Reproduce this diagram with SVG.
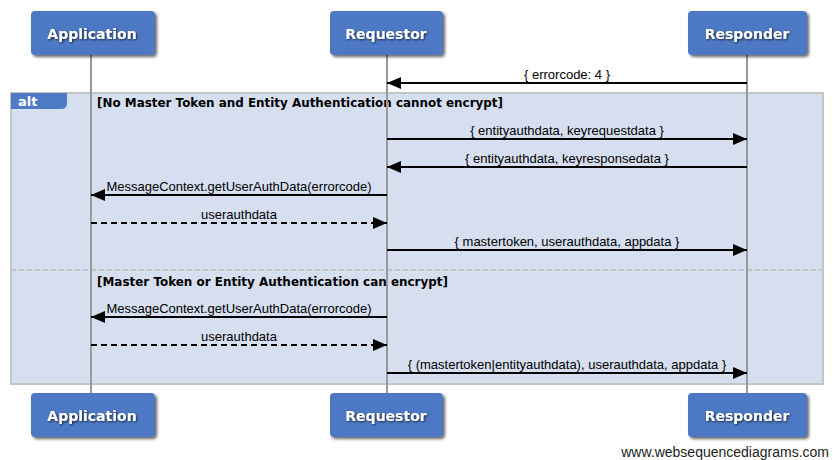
<svg xmlns="http://www.w3.org/2000/svg" width="833" height="460" viewBox="0 0 833 460">
<defs>
<filter id="sh" x="-20%" y="-20%" width="150%" height="160%">
<feGaussianBlur in="SourceAlpha" stdDeviation="1.5"/>
<feOffset dx="2" dy="2" result="b"/>
<feFlood flood-color="#000" flood-opacity="0.6"/>
<feComposite in2="b" operator="in"/>
<feMerge><feMergeNode/><feMergeNode in="SourceGraphic"/></feMerge>
</filter>
<filter id="tsh" x="-10%" y="-30%" width="120%" height="160%">
<feGaussianBlur in="SourceAlpha" stdDeviation="0.8"/>
<feOffset dx="1" dy="1" result="b"/>
<feFlood flood-color="#000" flood-opacity="0.7"/>
<feComposite in2="b" operator="in"/>
<feMerge><feMergeNode/><feMergeNode in="SourceGraphic"/></feMerge>
</filter>
<marker id="ah" markerUnits="userSpaceOnUse" markerWidth="14" markerHeight="12" refX="14" refY="6" orient="auto">
<path d="M0,0 L14,6 L0,12 z" fill="#000"/>
</marker>
</defs>
<style>
.box{fill:#4E79C4;filter:url(#sh)}
.pt{font-family:"DejaVu Sans",Verdana,sans-serif;font-weight:bold;font-size:14px;fill:#fff;text-anchor:middle;filter:url(#tsh)}
.life{stroke:#999;stroke-width:2}
.msg{stroke:#000;stroke-width:2;fill:none;marker-end:url(#ah)}
.dash{stroke-dasharray:6,4}
.ml{font-family:"Liberation Sans",Arial,sans-serif;font-size:13px;fill:#000;text-anchor:middle}
.hd{font-family:"DejaVu Sans",Verdana,sans-serif;font-weight:bold;font-size:12px;fill:#000}
</style>
<rect width="833" height="460" fill="#fff"/>
<g id="alt-frame">
<rect x="11" y="93" width="812" height="291" fill="#D6DFF0" stroke="#C4C4C4" stroke-width="2"/>
<line x1="11" y1="270" x2="823" y2="270" stroke="#C4C4C4" stroke-width="2" stroke-dasharray="5,3"/>
<path d="M11,93 H67 V103 Q67,109 61,109 H11 Z" fill="#4E79C4"/>
<text x="18" y="106" font-family="DejaVu Sans,Verdana,sans-serif" font-weight="bold" font-size="13" fill="#fff">alt</text>
<text class="hd" x="97" y="107" textLength="406" lengthAdjust="spacingAndGlyphs">[No Master Token and Entity Authentication cannot encrypt]</text>
<text class="hd" x="97" y="286" textLength="351" lengthAdjust="spacingAndGlyphs">[Master Token or Entity Authentication can encrypt]</text>
</g>
<g id="lifelines">
<line class="life" x1="91" y1="55" x2="91" y2="393"/>
<line class="life" x1="387" y1="55" x2="387" y2="393"/>
<line class="life" x1="747" y1="55" x2="747" y2="393"/>
</g>
<g id="Application">
<rect class="box" x="31" y="11" width="124" height="44" rx="4"/>
<text class="pt" x="92" y="39">Application</text>
</g>
<g id="Requestor">
<rect class="box" x="330" y="11" width="113" height="44" rx="4"/>
<text class="pt" x="386" y="39">Requestor</text>
</g>
<g id="Responder">
<rect class="box" x="688" y="11" width="119" height="44" rx="4"/>
<text class="pt" x="747" y="39">Responder</text>
</g>
<g id="Application-bottom">
<rect class="box" x="31" y="393" width="124" height="44" rx="4"/>
<text class="pt" x="92" y="421">Application</text>
</g>
<g id="Requestor-bottom">
<rect class="box" x="330" y="393" width="113" height="44" rx="4"/>
<text class="pt" x="386" y="421">Requestor</text>
</g>
<g id="Responder-bottom">
<rect class="box" x="688" y="393" width="119" height="44" rx="4"/>
<text class="pt" x="747" y="421">Responder</text>
</g>
<g id="connectors">
<path class="msg" d="M747,83 H387"/>
<text class="ml" x="567" y="79">{ errorcode: 4 }</text>
<path class="msg" d="M387,139 H747"/>
<text class="ml" x="567" y="135">{ entityauthdata, keyrequestdata }</text>
<path class="msg" d="M747,167 H387"/>
<text class="ml" x="567" y="163">{ entityauthdata, keyresponsedata }</text>
<path class="msg" d="M387,195 H91"/>
<text class="ml" x="239" y="191">MessageContext.getUserAuthData(errorcode)</text>
<path class="msg dash" d="M91,223 H387"/>
<text class="ml" x="239" y="219">userauthdata</text>
<path class="msg" d="M387,250 H747"/>
<text class="ml" x="567" y="246">{ mastertoken, userauthdata, appdata }</text>
<path class="msg" d="M387,317 H91"/>
<text class="ml" x="239" y="313">MessageContext.getUserAuthData(errorcode)</text>
<path class="msg dash" d="M91,345 H387"/>
<text class="ml" x="239" y="341">userauthdata</text>
<path class="msg" d="M387,373 H747"/>
<text class="ml" x="567" y="369">{ (mastertoken|entityauthdata), userauthdata, appdata }</text>
</g>
<text x="829" y="457" font-family="Liberation Sans,Arial,sans-serif" font-size="14" fill="#222" text-anchor="end">www.websequencediagrams.com</text>
</svg>
